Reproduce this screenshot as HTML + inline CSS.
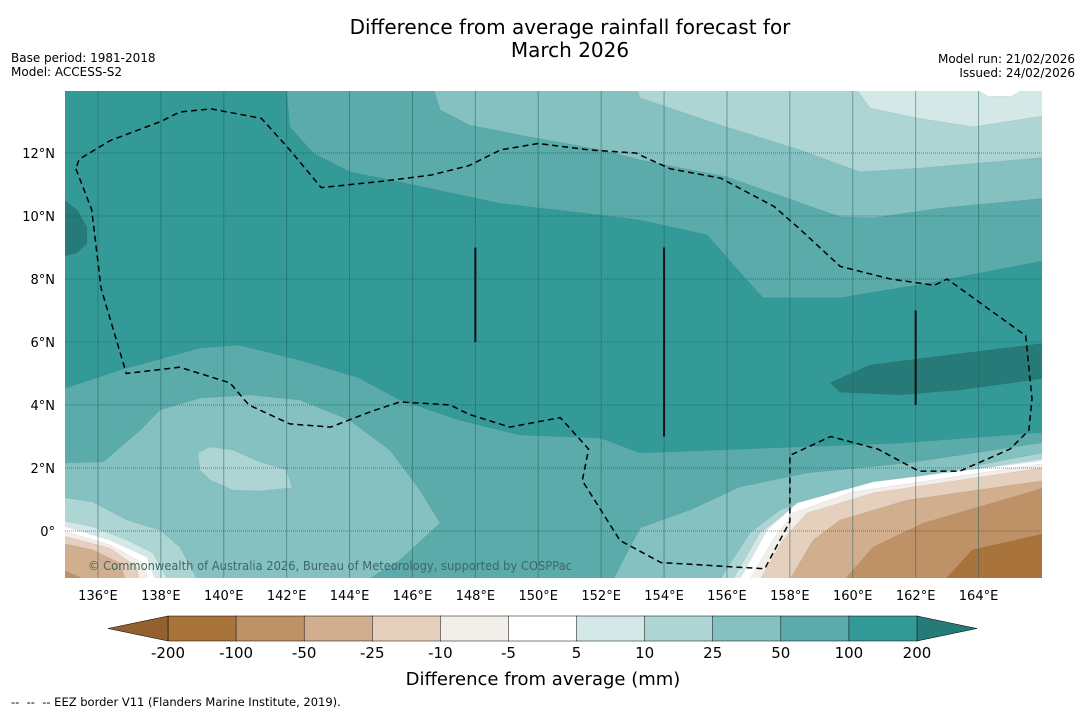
<!DOCTYPE html>
<html><head><meta charset="utf-8">
<style>
html,body{margin:0;padding:0;background:#fff;}
body{width:1085px;height:713px;overflow:hidden;font-family:"DejaVu Sans","Liberation Sans",sans-serif;}
svg text{font-family:"DejaVu Sans","Liberation Sans",sans-serif;}
</style></head>
<body>
<svg id="chart" width="1085" height="713" viewBox="0 0 1085 713" xmlns="http://www.w3.org/2000/svg">
<text x="570" y="34" font-size="20" text-anchor="middle" fill="#000">Difference from average rainfall forecast for</text>
<text x="570" y="57" font-size="20" text-anchor="middle" fill="#000">March 2026</text>
<text x="11" y="62" font-size="12" fill="#000">Base period: 1981-2018</text>
<text x="11" y="76" font-size="12" fill="#000">Model: ACCESS-S2</text>
<text x="1075" y="63" font-size="12" text-anchor="end" fill="#000">Model run: 21/02/2026</text>
<text x="1075" y="77" font-size="12" text-anchor="end" fill="#000">Issued: 24/02/2026</text>
<defs><clipPath id="mapclip"><rect x="65" y="91" width="977" height="487"/></clipPath></defs>
<g id="map" clip-path="url(#mapclip)"></g>
<g id="axes"></g>
<g id="cbar"></g>
<text x="543" y="685" font-size="18" text-anchor="middle" fill="#000">Difference from average (mm)</text>
<text x="11" y="706" font-size="11.5" fill="#000" xml:space="preserve" style="white-space:pre">--  --  -- EEZ border V11 (Flanders Marine Institute, 2019).</text>
</svg>
<script>
// ---- data ----
const lonTicks = [136,138,140,142,144,146,148,150,152,154,156,158,160,162,164];
const latTicks = [0,2,4,6,8,10,12];
const levels = [-200,-100,-50,-25,-10,-5,5,10,25,50,100,200];
const levelColors = ["#a9733c","#bf9166","#d1ae8d","#e5d0bd","#f2eeea","#ffffff","#d4e8e7","#acd5d4","#85c1c0","#5aabaa","#339a98"];
const extendLow = "#93602f";
const extendHigh = "#267a78";
const regionTop50 = [[141.98,14.2],[142.1,12.83],[142.84,12.0],[144.01,11.4],[145.6,11.08],[148.78,10.4],[151.96,10.03],[153.24,9.87],[155.37,9.4],[156.41,8.22],[157.15,7.4],[159.6,7.4],[162.05,7.81],[166.2,8.6],[166.2,14.2]];
const regionTop25 = [[146.62,14.2],[146.88,13.37],[147.8,12.89],[149.4,12.57],[152,12.1],[153.24,11.78],[156.0,11.24],[157.9,10.57],[159.6,9.97],[160.65,9.94],[162.8,10.25],[166.2,10.57],[166.2,14.2]];
const regionTop10 = [[153.08,14.2],[153.24,13.75],[155.78,12.89],[158.32,12.1],[160.23,11.4],[162.14,11.52],[166.2,11.87],[166.2,14.2]];
const regionTop5 = [[160.0,14.2],[160.55,13.43],[162.05,13.11],[163.83,12.83],[166.2,13.2],[166.2,14.2]];
const regionTopWhite = [[163.6,14.2],[164.3,13.8],[165.05,13.8],[165.7,14.2]];
const regionBot50 = [[134.8,4.48],[136.7,5.11],[139.24,5.81],[140.5,5.9],[142.4,5.43],[144.3,4.86],[145.6,4.16],[147.5,3.52],[149.4,3.05],[152.0,2.95],[153.24,2.48],[161.5,2.79],[166.2,3.14],[166.2,-1.7],[134.8,-1.7]];
const regionBot25L = [[134.8,2.16],[136.16,2.19],[137.34,3.2],[137.97,3.84],[139.24,4.22],[140.83,4.32],[142.42,4.16],[144.0,3.52],[145.28,2.57],[146.24,1.3],[146.88,0.25],[145.6,-0.92],[144.33,-1.7],[134.8,-1.7]];
const regionBot25R = [[152.3,-1.7],[153.24,0.1],[154.83,0.67],[156.41,1.4],[158.54,1.84],[161.73,2.16],[166.2,2.83],[166.2,-1.7]];
const regionBot10L = [[134.8,1.08],[135.84,0.92],[136.92,0.35],[137.97,0.03],[138.61,-0.51],[139.24,-1.7],[134.8,-1.7]];
const regionBot10R = [[155.68,-1.7],[156.73,-0.06],[157.69,0.67],[159.6,1.3],[162.8,1.87],[166.2,2.51],[166.2,-1.7]];
const regionIsland10 = [[139.18,2.48],[139.56,2.67],[140.29,2.57],[141.15,2.19],[142.0,1.94],[142.17,1.37],[141.15,1.27],[140.29,1.3],[139.56,1.62],[139.24,1.94]];
const regionBot5L = [[134.8,0.35],[135.84,0.13],[136.92,-0.29],[137.75,-0.7],[138.29,-1.7],[134.8,-1.7]];
const regionBot5R = [[156.1,-1.7],[157.05,-0.06],[158.1,0.76],[160.65,1.46],[166.2,2.32],[166.2,-1.7]];
const regionBotWL = [[134.8,0.19],[136.38,-0.29],[137.56,-0.83],[137.88,-1.7],[134.8,-1.7]];
const regionBotWR = [[156.32,-1.7],[157.27,0.03],[158.23,0.89],[160.65,1.56],[166.2,2.25],[166.2,-1.7]];
const regionBotN5L = [[134.8,0.03],[136.38,-0.44],[137.43,-1.02],[137.66,-1.7],[134.8,-1.7]];
const regionBotN5R = [[156.64,-1.7],[157.46,-0.29],[158.1,0.57],[160.0,1.24],[166.2,2.16],[166.2,-1.7]];
const regionBotN10L = [[134.8,-0.13],[136.38,-0.54],[137.24,-1.14],[137.34,-1.7],[134.8,-1.7]];
const regionBotN10R = [[156.96,-1.7],[157.78,-0.29],[158.54,0.57],[160.65,1.21],[166.2,2.03],[166.2,-1.7]];
const regionBotN25L = [[134.8,-0.38],[135.84,-0.6],[136.7,-1.02],[136.92,-1.7],[134.8,-1.7]];
const regionBotN25R = [[157.91,-1.7],[158.74,-0.29],[159.6,0.35],[161.73,0.98],[166.2,1.62],[166.2,-1.7]];
const regionBotN50L = [[134.8,-1.2],[135.5,-1.5],[135.6,-1.7],[134.8,-1.7]];
const regionBotN50R = [[159.6,-1.7],[160.65,-0.51],[162.24,0.25],[166.2,1.4],[166.2,-1.7]];
const regionBotN100R = [[162.8,-1.7],[163.8,-0.6],[166.2,-0.06],[166.2,-1.7]];
const regionDarkL = [[134.8,10.6],[135.33,10.19],[135.65,9.65],[135.65,9.14],[135.33,8.83],[134.8,8.7]];
const regionDarkR = [[159.28,4.7],[160.55,5.27],[163.09,5.59],[166.2,5.97],[166.2,4.86],[163.41,4.48],[161.5,4.32],[159.6,4.41]];
const eezLon = [135.3,135.8,136.1,136.9,138.6,140.2,140.8,142.1,143.4,144.7,145.6,147.2,147.8,149.1,150.7,151.6,151.4,152.6,153.9,157.2,158.0,158.0,159.3,160.8,162.1,163.4,165.0,165.6,165.7,165.5,163.0,162.6,161.2,159.6,158.3,157.5,155.8,154.2,153.1,151.6,150.0,148.8,147.8,146.6,145.0,143.1,142.1,141.2,139.6,138.6,138.0,136.4,135.4,135.3];
const eezLat = [11.5,10.2,7.7,5.0,5.2,4.7,4.0,3.4,3.3,3.8,4.1,4.0,3.7,3.3,3.6,2.6,1.6,-0.3,-1.0,-1.2,0.3,2.4,3.0,2.6,1.9,1.9,2.6,3.2,4.2,6.2,8.0,7.8,8.0,8.4,9.6,10.3,11.2,11.5,12.0,12.1,12.3,12.1,11.6,11.3,11.1,10.9,12.1,13.1,13.4,13.3,13.0,12.4,11.8,11.5];
const barLon = [148,154,162];
const barLat0 = [9,9,7];
const barLat1 = [6,3,4];

// ---- axes ----
const X = lon => 66.5 + (lon - 135) * 31.45;
const Y = lat => 531 - lat * 31.5;
const NS = "http://www.w3.org/2000/svg";
const map = document.getElementById('map');
const axes = document.getElementById('axes');
const cbar = document.getElementById('cbar');
function mk(tag, attrs, parent){const e=document.createElementNS(NS,tag);for(const k in attrs)e.setAttribute(k,attrs[k]);parent.appendChild(e);return e;}

let bg = mk('rect',{x:65,y:91,width:977,height:487,fill:levelColors[10]},map);



const regions = [
 ['top-50-100',regionTop50,levelColors[9]],['top-25-50',regionTop25,levelColors[8]],['top-10-25',regionTop10,levelColors[7]],
 ['top-5-10',regionTop5,levelColors[6]],['top-near-zero',regionTopWhite,levelColors[5]],
 ['bottom-50-100',regionBot50,levelColors[9]],['bottom-25-50-left',regionBot25L,levelColors[8]],['bottom-25-50-right',regionBot25R,levelColors[8]],
 ['bottom-10-25-left',regionBot10L,levelColors[7]],['bottom-10-25-right',regionBot10R,levelColors[7]],['patch-10-25',regionIsland10,levelColors[7]],
 ['bottom-5-10-left',regionBot5L,levelColors[6]],['bottom-5-10-right',regionBot5R,levelColors[6]],
 ['bottom-near-zero-left',regionBotWL,levelColors[5]],['bottom-near-zero-right',regionBotWR,levelColors[5]],
 ['bottom-m5-m10-left',regionBotN5L,levelColors[4]],['bottom-m5-m10-right',regionBotN5R,levelColors[4]],
 ['bottom-m10-m25-left',regionBotN10L,levelColors[3]],['bottom-m10-m25-right',regionBotN10R,levelColors[3]],
 ['bottom-m25-m50-left',regionBotN25L,levelColors[2]],['bottom-m25-m50-right',regionBotN25R,levelColors[2]],
 ['bottom-m50-m100-left',regionBotN50L,levelColors[1]],['bottom-m50-m100-right',regionBotN50R,levelColors[1]],
 ['bottom-m100-m200-right',regionBotN100R,levelColors[0]],
 ['dark-over-200-left',regionDarkL,extendHigh],['dark-over-200-right',regionDarkR,extendHigh]
];
regions.forEach(r=>{
  const p = mk('polygon',{points:r[1].map(q=>X(q[0]).toFixed(1)+','+Y(q[1]).toFixed(1)).join(' '),fill:r[2],stroke:'#000','stroke-opacity':0.08,'stroke-width':0.6},map);
  
  
});

lonTicks.forEach(l=>{
  const g = mk('line',{x1:X(l),x2:X(l),y1:91,y2:578,stroke:'#1f5e5c','stroke-opacity':0.5,'stroke-width':1},map);
  
  
  const t = mk('text',{x:X(l),y:600,'font-size':13,'text-anchor':'middle',fill:'#000'},axes);
  t.textContent = l+'°E';
  
  
});
latTicks.forEach(l=>{
  const g = mk('line',{x1:65,x2:1042,y1:Y(l),y2:Y(l),stroke:'#1f4f4e','stroke-opacity':0.6,'stroke-width':1,'stroke-dasharray':'1,1'},map);
  
  
  const t = mk('text',{x:55,y:Y(l)+5,'font-size':13,'text-anchor':'end',fill:'#000'},axes);
  t.textContent = l===0 ? '0°' : l+'°N';
  
  
});

const eez = mk('polyline',{points:eezLon.map((l,i)=>X(l).toFixed(1)+','+Y(eezLat[i]).toFixed(1)).join(' '),fill:'none',stroke:'#000','stroke-width':1.5,'stroke-dasharray':'6,4'},map);



barLon.forEach((l,i)=>{
  const b = mk('line',{x1:X(l),x2:X(l),y1:Y(barLat0[i]),y2:Y(barLat1[i]),stroke:'#111','stroke-width':2},map);
  
  
});

const wm = mk('text',{x:88,y:570,'font-size':12,fill:'#3f6766',textLength:484,lengthAdjust:'spacingAndGlyphs'},map);
wm.textContent = '© Commonwealth of Australia 2026, Bureau of Meteorology, supported by COSPPac';



const cbX0 = 168, cbX1 = 917, cbY = 616, cbH = 25;
const n = levelColors.length;
const w = (cbX1 - cbX0) / n;
levelColors.forEach((c,i)=>{
  const r = mk('rect',{x:cbX0+i*w,y:cbY,width:w+0.5,height:cbH,fill:c,stroke:'#000','stroke-width':0.5},cbar);
  
  
});
const tl = mk('polygon',{points:`${cbX0},${cbY} 108,${cbY+cbH/2} ${cbX0},${cbY+cbH}`,fill:extendLow,stroke:'#000','stroke-width':0.5},cbar);


const tr = mk('polygon',{points:`${cbX1},${cbY} 977,${cbY+cbH/2} ${cbX1},${cbY+cbH}`,fill:extendHigh,stroke:'#000','stroke-width':0.5},cbar);


levels.forEach((v,i)=>{
  const t = mk('text',{x:cbX0+i*w,y:658,'font-size':15,'text-anchor':'middle',fill:'#000'},cbar);
  t.textContent = v;
  
  
});
</script>
</body></html>
